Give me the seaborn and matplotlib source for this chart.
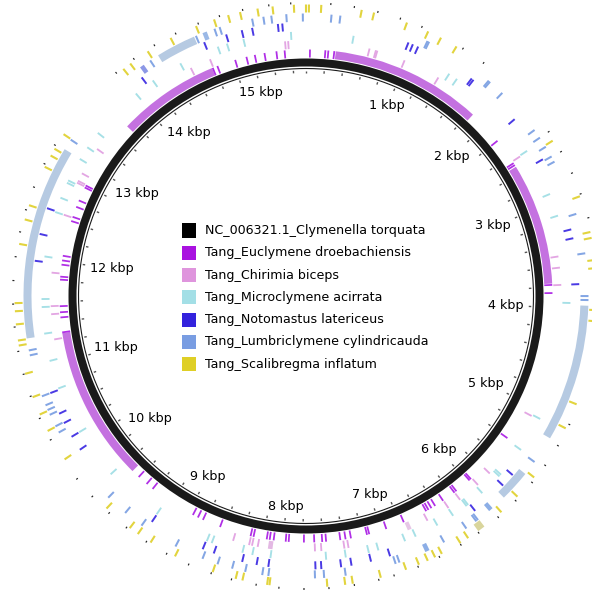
import numpy as np
import matplotlib
matplotlib.use('Agg')
import matplotlib.pyplot as plt
import seaborn as sns
from matplotlib.patches import Rectangle

sns.set_style('white')
plt.rcParams['font.family'] = ['DejaVu Sans']
plt.rcParams['text.color'] = 'black'

genome_len = 15538

track_names = ['NC_006321.1_Clymenella torquata', 'Tang_Euclymene droebachiensis',
               'Tang_Chirimia biceps', 'Tang_Microclymene acirrata',
               'Tang_Notomastus latericeus', 'Tang_Lumbriclymene cylindricauda',
               'Tang_Scalibregma inflatum']
legend_colors = ['#000000', '#a912e0', '#df95dd', '#a3dfe6', '#3322dd', '#799de2', '#dfcf26']
mark_colors = ['#1a1a1a', '#b02ee6', '#e3a6e3', '#a6e0e6', '#4a3ae4', '#84a6e4', '#e2d43e']

# hit positions (bp) per track
euclymene_hits = [40, 195, 225, 285, 2200, 2477, 2500, 3773, 3855, 5404, 5956, 5975, 6146,
                  6170, 6310, 6405, 6449, 6483, 6509, 6760, 6948, 7127, 7150, 7315, 7370,
                  7423, 7567, 7606, 7686, 7790, 7943, 7973, 8095, 8135, 8165, 8300, 8330,
                  8650, 8836, 8892, 8948, 9430, 9508, 9614, 11287, 11438, 11490, 11551,
                  11818, 11848, 11969, 12012, 12059, 12418, 12462, 12569, 12638, 12781,
                  12803, 14578, 14628, 14817, 14934, 15020, 15119, 15240, 15323]
chirimia_hits = [622, 686, 700, 980, 1347, 2456, 3500, 3609, 3777, 5093, 5784, 5943, 6168,
                 6306, 6543, 7355, 7395, 7620, 7682, 8240, 8296, 8325, 8485, 11231, 11477,
                 11555, 11880, 12454, 12790, 12810, 12892, 13170, 14381, 14585, 15335, 15365]
microclymene_hits = [448, 1416, 1502, 2448, 2905, 3121, 3950, 5080, 5421, 5719, 5740, 5965,
                     6137, 6155, 6310, 6483, 6711, 6819, 7083, 7175, 7395, 7580, 8103, 8275,
                     8370, 8671, 8720, 9253, 9824, 10316, 10770, 11040, 11300, 11550, 11625,
                     12025, 12453, 12595, 12747, 12772, 13001, 13130, 13297, 13810, 14010,
                     14313, 14697, 14787, 14947, 15397]
notomastus_hits = [950, 993, 1045, 1610, 1630, 2146, 2590, 3276, 3358, 3777, 5650, 5779, 6120,
                   6996, 7175, 7355, 7450, 7630, 7683, 8111, 8219, 8352, 8620, 8727, 9250,
                   10177, 10316, 10458, 10553, 10756, 11973, 12220, 12462, 13944, 14594,
                   14805, 14951, 15047, 15283, 15323]
lumbriclymene_hits = [224, 302, 1100, 1115, 1740, 1755, 1900, 2331, 2413, 2508, 2607, 2659,
                      3155, 3509, 3885, 3920, 5438, 6150, 6168, 6276, 6505, 6935, 6970, 7420,
                      7610, 7690, 8100, 8154, 8306, 8424, 8557, 8697, 8957, 9306, 9487, 9687,
                      10406, 10467, 10580, 10626, 10671, 10756, 11130, 11174, 13104, 14093,
                      14548, 14722, 14769, 15063, 15163, 15233, 15365, 15510]
scalibregma_hits = [0, 25, 130, 476, 583, 875, 1070, 1191, 1342, 2495, 3021, 3337, 3388, 3578,
                    3647, 4005, 4100, 4826, 5050, 5546, 5762, 5952, 6310, 6388, 6570, 6634,
                    6703, 6785, 6902, 7127, 7370, 7435, 7588, 8080, 8100, 8313, 8372, 8575,
                    8922, 9160, 9290, 9375, 9633, 10182, 10463, 10618, 10777, 10985, 11231,
                    11274, 11412, 11524, 11593, 12098, 12311, 12437, 12789, 12897, 12963,
                    13109, 13863, 13937, 14118, 14343, 14581, 14744, 14869, 14973, 15124,
                    15253, 15435]

# longer low-identity segments (start, end, colour)
euclymene_blocks = [(300, 1840, '#c471e0'), (2520, 3760, '#c471e0'),
                    (9700, 11280, '#c471e0'), (13530, 14570, '#c471e0')]
chirimia_blocks = [(6715, 6755, '#e6c6e6'), (8095, 8140, '#e3b8e3')]
lumbriclymene_blocks = [(3970, 5190, '#b6cae2'), (5570, 5850, '#b6cae2'),
                        (11280, 13005, '#b6cae2'), (14175, 14530, '#b6cae2'),
                        (5985, 6025, '#8caee6'), (6650, 6690, '#8caee6'),
                        (13985, 14025, '#8c98e6'), (14610, 14650, '#9ab8e6')]
scalibregma_blocks = [(6140, 6205, '#d9d59c')]

# small black marks on the outer edge
outer_dots = [210, 410, 613, 811, 1006, 1398, 1610, 2413, 2611, 2814, 3004, 3216, 5007, 5210,
              5408, 5590, 5797, 6000, 6211, 6392, 6600, 6798, 7014, 7148, 7359, 7575, 7786,
              7998, 8192, 8405, 8584, 8788, 8995, 9194, 9400, 9591, 9790, 9987, 10385, 10588,
              10790, 10985, 11183, 11391, 11585, 11784, 11986, 12199, 12392, 12595, 12811,
              12992, 13795, 13985, 14193, 14398, 14606, 14796, 14999, 15223, 15409]

kbp_labels = list(range(1, 16))


def to_theta(bp):
    return 2 * np.pi * np.asarray(bp, dtype=float) / genome_len


fig = plt.figure(figsize=(5.92, 5.92), dpi=100)
ax = fig.add_axes([10 / 592, 0, 1, 1], projection='polar')
ax.set_theta_zero_location('N')
ax.set_theta_direction(-1)
ax.set_ylim(0, 296)
ax.set_axis_off()

# backbone
ax.bar(0, 8, width=2 * np.pi, bottom=229.5, color='#1a1a1a', linewidth=0)
full = np.linspace(0, 2 * np.pi, 720)
ax.plot(full, np.full_like(full, 227.5), color='#1a1a1a', lw=0.8)
minor = np.arange(0, genome_len, 200)
ax.vlines(to_theta(minor), 223, 225.5, color='#555555', lw=1.0)

# labels sit with their nearest edge at a fixed distance inside the ring
for k in kbp_labels:
    th = float(to_theta(k * 1000))
    label = f'{k} kbp'
    half_w = 3.65 * len(label)
    half_h = 5.5
    r = 219 - (abs(np.sin(th)) * half_w + abs(np.cos(th)) * half_h)
    ax.text(th, r, label, ha='center', va='center', fontsize=9.2)

tracks = [(euclymene_hits, euclymene_blocks), (chirimia_hits, chirimia_blocks),
          (microclymene_hits, []), (notomastus_hits, []),
          (lumbriclymene_hits, lumbriclymene_blocks), (scalibregma_hits, scalibregma_blocks)]
ring_bottom = 238.5
ring_height = 8
for i, (hits, blocks) in enumerate(tracks):
    r0 = ring_bottom + i * 9
    for start, end, col in blocks:
        ax.bar(to_theta(start), ring_height, width=to_theta(end - start), bottom=r0,
               align='edge', color=col, linewidth=0)
    ax.bar(to_theta(hits), ring_height, width=to_theta(18), bottom=r0,
           color=mark_colors[i + 1], linewidth=0)

ax.bar(to_theta(outer_dots), 2, width=to_theta(10), bottom=292, color='#222222', linewidth=0)

# legend in the middle
row_y = [230.5, 252.8, 275.1, 297.4, 319.7, 342.0, 364.3]
for name, col, y in zip(track_names, legend_colors, row_y):
    fig.add_artist(Rectangle((182 / 592, 1 - (y + 7) / 592), 14 / 592, 14 / 592,
                             transform=fig.transFigure, color=col, linewidth=0))
    fig.text(205 / 592, 1 - y / 592, name, ha='left', va='center', fontsize=9.05)

fig.savefig('out.png', dpi=100)
